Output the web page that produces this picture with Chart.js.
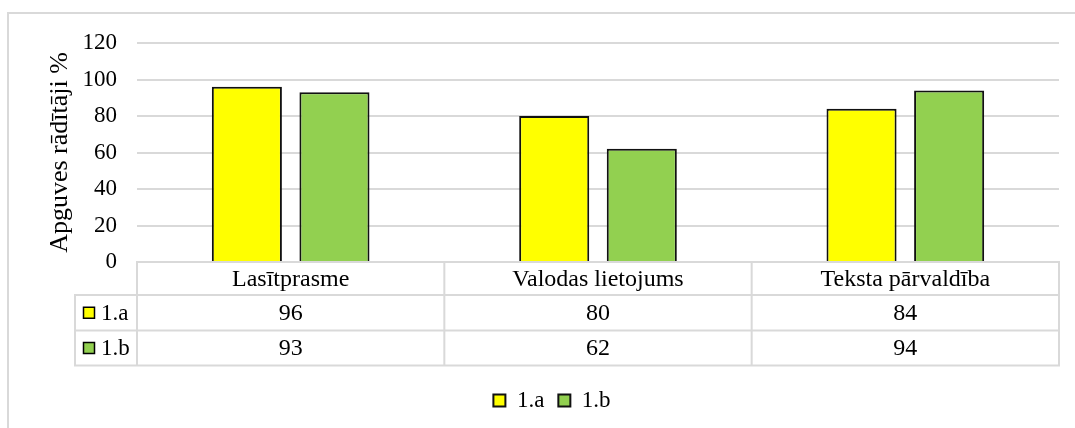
<!DOCTYPE html>
<html><head><meta charset="utf-8">
<script src="https://cdn.jsdelivr.net/npm/chart.js@4/dist/chart.umd.min.js"></script>
<style>html,body{margin:0;padding:0;background:#fff;} canvas{display:block;}</style>
</head><body>
<canvas id="c" width="1075" height="428"></canvas>
<script>
const categories = ['Lasītprasme', 'Valodas lietojums', 'Teksta pārvaldība'];
const seriesNames = ['1.a', '1.b'];
const values1a = [96, 80, 84];
const values1b = [93, 62, 94];
const yTicks = [0, 20, 40, 60, 80, 100, 120];
const yAxisTitle = 'Apguves rādītāji %';
const seriesColors = ['#FFFF00', '#92D050'];

const FONT = 'Liberation Serif, Times New Roman, serif';
const GRID = '#d9d9d9';

const frame = {
  id: 'frame',
  beforeDraw(chart) {
    const ctx = chart.ctx;
    ctx.save();
    ctx.strokeStyle = GRID;
    ctx.lineWidth = 2;
    ctx.beginPath();
    ctx.moveTo(8, chart.height);
    ctx.lineTo(8, 13);
    ctx.lineTo(chart.width, 13);
    ctx.stroke();
    ctx.restore();
  }
};

const dataTable = {
  id: 'dataTable',
  afterDraw(chart) {
    const ctx = chart.ctx;
    const ca = chart.chartArea;
    const xs = chart.scales.x;
    const n = categories.length;
    const catW = (ca.right - ca.left) / n;
    const top = ca.bottom;
    const rows = [top, top + 33, top + 68.5, top + 103.5];
    const leftCol = ca.left - 62;
    ctx.save();
    ctx.strokeStyle = GRID;
    ctx.lineWidth = 2;
    ctx.lineCap = 'square';
    ctx.beginPath();
    ctx.moveTo(ca.left, rows[0]); ctx.lineTo(ca.right, rows[0]);
    for (let r = 1; r < rows.length; r++) {
      ctx.moveTo(leftCol, rows[r]); ctx.lineTo(ca.right, rows[r]);
    }
    ctx.moveTo(leftCol, rows[1]); ctx.lineTo(leftCol, rows[3]);
    for (let i = 0; i <= n; i++) {
      const bx = ca.left + i * catW;
      ctx.moveTo(bx, rows[0]); ctx.lineTo(bx, rows[3]);
    }
    ctx.stroke();

    ctx.fillStyle = '#000';
    ctx.textAlign = 'center';
    ctx.textBaseline = 'middle';
    ctx.font = '24px ' + FONT;
    const seriesVals = [values1a, values1b];
    categories.forEach((c, i) => {
      const cx = xs.getPixelForValue(i);
      ctx.fillText(c, cx, (rows[0] + rows[1]) / 2 + 1);
      seriesVals.forEach((vals, s) => {
        ctx.fillText(String(vals[i]), cx, (rows[s + 1] + rows[s + 2]) / 2 + 1);
      });
    });
    ctx.textAlign = 'left';
    ctx.font = '23px ' + FONT;
    seriesNames.forEach((name, s) => {
      const cy = (rows[s + 1] + rows[s + 2]) / 2;
      ctx.fillStyle = seriesColors[s];
      ctx.fillRect(83.5, cy - 5.5, 11, 11);
      ctx.strokeStyle = '#000';
      ctx.lineWidth = 1.5;
      ctx.strokeRect(83.5, cy - 5.5, 11, 11);
      ctx.fillStyle = '#000';
      ctx.fillText(name, 101, cy + 1);
    });
    ctx.restore();
  }
};

Chart.defaults.color = '#000';
Chart.defaults.font.family = FONT;

new Chart(document.getElementById('c'), {
  type: 'bar',
  data: {
    labels: categories,
    datasets: [
      { label: seriesNames[0], data: values1a, backgroundColor: seriesColors[0], borderColor: '#111', borderWidth: 2 },
      { label: seriesNames[1], data: values1b, backgroundColor: seriesColors[1], borderColor: '#111', borderWidth: 2 }
    ]
  },
  options: {
    responsive: false,
    animation: false,
    categoryPercentage: 0.57,
    barPercentage: 0.8,
    layout: { padding: { left: 45, top: 43, right: 16, bottom: 6 } },
    plugins: {
      tooltip: { enabled: false },
      legend: {
        position: 'bottom',
        labels: { font: { size: 23, family: FONT }, color: '#000', boxWidth: 12, boxHeight: 12, padding: 14 }
      }
    },
    scales: {
      x: {
        ticks: { display: false },
        grid: { display: false },
        border: { display: false },
        afterFit: s => { s.height = 113; }
      },
      y: {
        min: 0, max: 120,
        afterBuildTicks: s => { s.ticks = yTicks.map(v => ({ value: v })); },
        ticks: { font: { size: 23, family: FONT }, color: '#000', padding: 20 },
        grid: { color: GRID, lineWidth: 2, drawTicks: false },
        border: { display: false },
        title: { display: true, text: yAxisTitle, color: '#000', font: { size: 26, family: FONT, lineHeight: 1.15 }, padding: 0 },
        afterFit: s => { s.width = 92; }
      }
    }
  },
  plugins: [frame, dataTable]
});
</script>
</body></html>
